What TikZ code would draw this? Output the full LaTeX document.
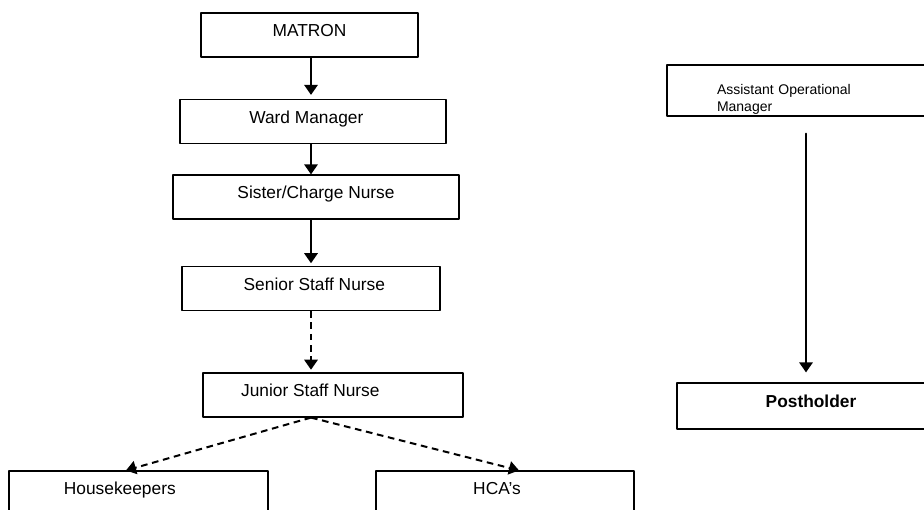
\documentclass[tikz,border=0pt]{standalone}
\usepackage{fontspec}
\setmainfont{Liberation Sans}
\usetikzlibrary{arrows.meta}

\begin{document}
\begin{tikzpicture}[line cap=round,line join=round,x=0.75pt,y=-0.75pt,
	box/.style={draw,line width=0.9pt,line cap=butt,inner sep=0pt,minimum width=#1*0.75pt,minimum height=33pt,text height=7pt,text depth=4.5pt,font=\fontsize{13}{15.6}\selectfont},
	tshift/.style={execute at begin node={\hspace*{#1}},execute at end node={\hspace*{-#1}}},
	solidarr/.style={line width=1.5pt,-{Triangle[width=10pt,length=7.5pt]}},
	dasharr/.style={solidarr,line cap=butt,dash pattern=on 5pt off 3.5pt}]
				\useasboundingbox (0,0) rectangle (924,510);
				\clip (0,0) rectangle (924,510);
				% left column
				\node [box=217] (matron) at (309.5,35) {MATRON};
				\node [box=266,tshift=-5pt] (ward) at (313,121.5) {Ward Manager};
				\node [box=286] (sister) at (316,197) {Sister/Charge Nurse};
				\node [box=258,tshift=2.5pt] (senior) at (311,288.5) {Senior Staff Nurse};
				\node [box=260,tshift=-17pt] (junior) at (333,395) {Junior Staff Nurse};
				\node [box=259,tshift=-14pt] (house) at (138.5,493) {Housekeepers};
				\node [box=258,tshift=-6pt] (hca) at (505,493) {HCA’s};
				% right column
				\node [box=278,minimum height=38.25pt,text width=133.5pt,align=left,text height=8pt,text depth=2.75pt,font=\fontsize{10.5}{12.75}\selectfont] (aom) at (806,90.5) {Assistant Operational\\Manager};
				\node [box=268,minimum height=34.5pt,font=\fontsize{13}{15.6}\selectfont\bfseries] (post) at (811,406) {Postholder};
				\coordinate (spine) at (311,0);
				\draw [solidarr,shorten >=3pt] (matron.south -| spine) -- (ward.north -| spine);
				\draw [solidarr] (ward.south -| spine) -- (sister.north -| spine);
				\draw [solidarr,shorten >=2pt] (sister.south -| spine) -- (senior.north -| spine);
				\draw [dasharr,shorten >=2pt] (senior.south -| spine) -- (junior.north -| spine);
				\draw [dasharr] (junior.south -| spine) -- ([xshift=-9.4pt]house.north);
				\draw [dasharr] (junior.south -| spine) -- ([xshift=10.5pt]hca.north);
				\draw [solidarr,shorten <=12.75pt,shorten >=7.5pt] (aom.south) -- (aom.south |- post.north);
			\end{tikzpicture}
\end{document}
